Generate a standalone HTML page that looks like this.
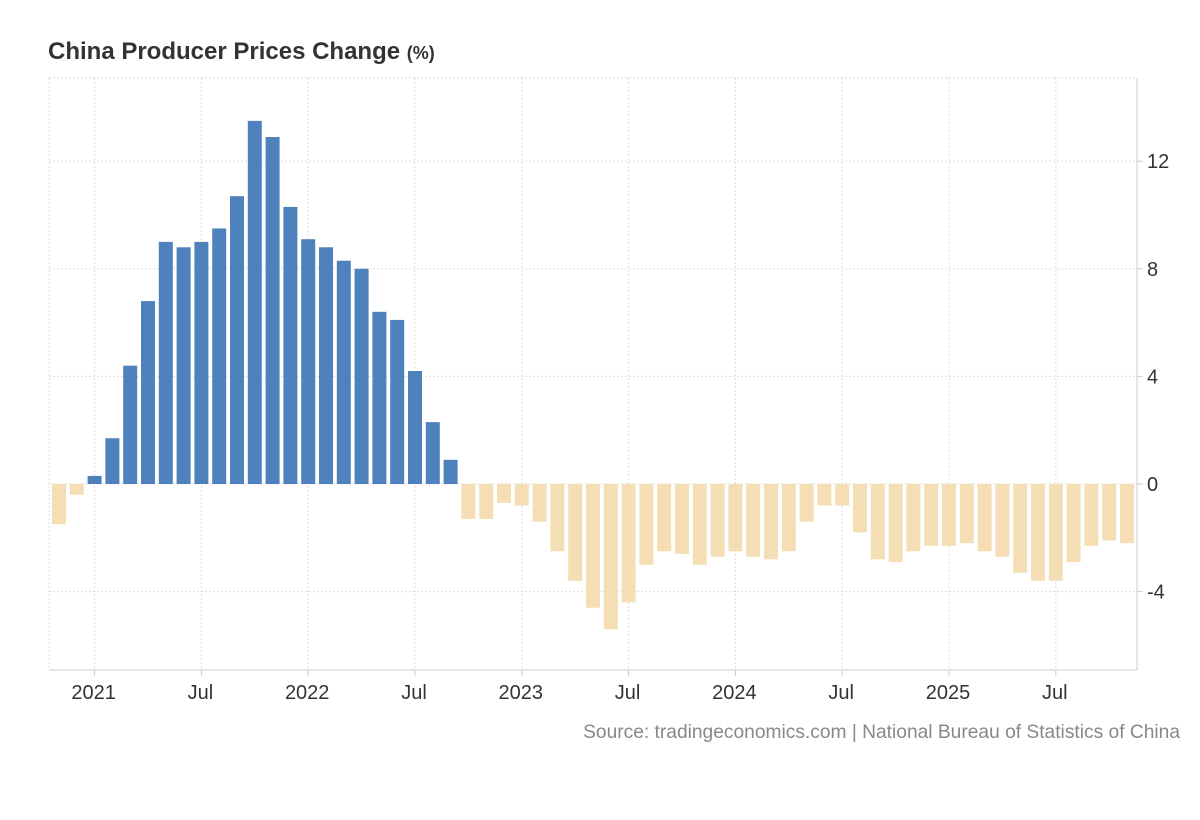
<!DOCTYPE html>
<html><head><meta charset="utf-8"><style>
body{margin:0;background:#fff;width:1200px;height:820px;overflow:hidden;font-family:"Liberation Sans",Arial,sans-serif}
</style></head><body>
<svg id="chart" width="1200" height="820" style="position:absolute;left:0;top:0">
<text x="48" y="59" font-size="24" font-weight="bold" fill="#333">China Producer Prices Change <tspan font-size="18">(%)</tspan></text>
<text x="1180" y="738" font-size="19.2" fill="#888" text-anchor="end">Source: tradingeconomics.com | National Bureau of Statistics of China</text>
<g id="grid"></g><g id="bars"></g><g id="axes"></g>
</svg>
<script>
const values=[-1.5,-0.4,0.3,1.7,4.4,6.8,9.0,8.8,9.0,9.5,10.7,13.5,12.9,10.3,9.1,8.8,8.3,8.0,6.4,6.1,4.2,2.3,0.9,-1.3,-1.3,-0.7,-0.8,-1.4,-2.5,-3.6,-4.6,-5.4,-4.4,-3.0,-2.5,-2.6,-3.0,-2.7,-2.5,-2.7,-2.8,-2.5,-1.4,-0.8,-0.8,-1.8,-2.8,-2.9,-2.5,-2.3,-2.3,-2.2,-2.5,-2.7,-3.3,-3.6,-3.6,-2.9,-2.3,-2.1,-2.2];
const yTicks=[-4,0,4,8,12];
const xTickLabels=["2021","Jul","2022","Jul","2023","Jul","2024","Jul","2025","Jul"];
const xTickMonths=[2,8,14,20,26,32,38,44,50,56];
const NS="http://www.w3.org/2000/svg";
const PL=49,PR=1137,PT=78,PB=670;
const yS=v=>484-v*26.9;
const xS=i=>59+i*17.8;
function mk(tag,attrs,parent){const e=document.createElementNS(NS,tag);for(const k in attrs)e.setAttribute(k,attrs[k]);document.getElementById(parent).appendChild(e);return e;}
[-4,0,4,8,12].forEach(v=>{
 const l=mk('line',{x1:PL,x2:PR,y1:yS(v),y2:yS(v),stroke:'#ddd','stroke-dasharray':'2,2'},'grid');
 
 
});
mk('line',{x1:PL,x2:PR,y1:PT,y2:PT,stroke:'#ddd','stroke-dasharray':'2,2'},'grid');
xTickMonths.forEach(m=>{
 const l=mk('line',{x1:xS(m),x2:xS(m),y1:PT,y2:PB,stroke:'#ddd','stroke-dasharray':'2,2'},'grid');
 
 
});
mk('line',{x1:PL,x2:PL,y1:PT,y2:PB,stroke:'#ddd','stroke-dasharray':'2,2'},'grid');
mk('line',{x1:PR,x2:PR,y1:PT,y2:PB,stroke:'#ccc'},'axes');
mk('line',{x1:PL,x2:PR,y1:PB,y2:PB,stroke:'#ccc'},'axes');
values.forEach((v,i)=>{
 const r=mk('rect',{x:xS(i)-7,width:14,y:Math.min(yS(v),yS(0)),height:Math.abs(yS(v)-yS(0)),fill:v>=0?'#4f81bd':'#f5deb3'},'bars');
 
 
});
yTicks.forEach(v=>{
 const t=mk('text',{x:1147,y:yS(v)+7,'font-size':20,fill:'#333'},'axes');t.textContent=v;
 
 
 mk('line',{x1:PR,x2:PR+6,y1:yS(v),y2:yS(v),stroke:'#ccc'},'axes');
});
xTickLabels.forEach((s,k)=>{
 const t=mk('text',{x:xS(xTickMonths[k])-1,y:699,'font-size':20,fill:'#333','text-anchor':'middle'},'axes');t.textContent=s;
 
 
 mk('line',{x1:xS(xTickMonths[k]),x2:xS(xTickMonths[k]),y1:PB,y2:PB+6,stroke:'#ccc'},'axes');
});
</script>
</body></html>
